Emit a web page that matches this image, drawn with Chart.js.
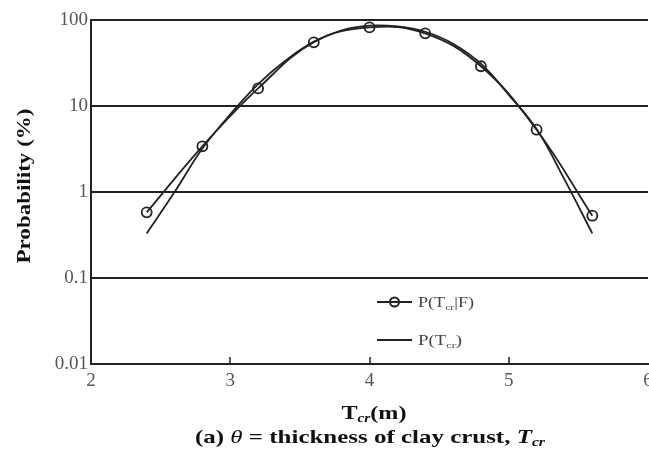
<!DOCTYPE html>
<html>
<head>
<meta charset="utf-8">
<script src="https://cdn.jsdelivr.net/npm/chart.js@4.4.1/dist/chart.umd.min.js"></script>
<style>
  html, body { margin: 0; padding: 0; background: #fff; overflow: hidden; }
  #wrap { position: absolute; left: 0; top: 0; width: 700px; height: 450px; }
</style>
</head>
<body>
<div id="wrap"><canvas id="myChart"></canvas></div>
<script>
// P(Tcr|F) : points with circles
const xCond = [2.4, 2.8, 3.2, 3.6, 4.0, 4.4, 4.8, 5.2, 5.6]
const pCond = [0.58, 3.4, 16, 55, 82, 70, 29, 5.3, 0.53]

// P(Tcr) : plain line
const xPrior = [2.4, 2.6, 2.8, 3.0, 3.2, 3.4, 3.6, 3.8, 4.0, 4.2, 4.4, 4.6, 4.8, 5.0, 5.2, 5.4, 5.6]
const pPrior = [0.33, 1.0, 3.2, 8, 18, 34, 56, 76, 86, 84, 73, 53, 31, 13.5, 5.4, 1.4, 0.33]

const yTicks = [0.01, 0.1, 1, 10, 100]
const xTickMarks = [3, 4, 5]

const serif = "'Liberation Serif', 'Times New Roman', Times, serif"

// draws a run of text parts, stretched horizontally to a target width
function drawRich(ctx, parts, x, y, target, align) {
  ctx.save()
  let total = 0
  parts.forEach((p) => {
    ctx.font = p.font
    p.w = ctx.measureText(p.t).width
    total += p.w
  })
  const sx = target ? target / total : 1
  ctx.translate(x, y)
  ctx.scale(sx, 1)
  let cx = align === 'left' ? 0 : -total / 2
  ctx.textBaseline = 'alphabetic'
  parts.forEach((p) => {
    ctx.font = p.font
    ctx.fillStyle = p.color || '#111'
    ctx.fillText(p.t, cx, p.dy || 0)
    cx += p.w
  })
  ctx.restore()
}

const decorations = {
  id: 'decorations',
  afterDraw(chart) {
    const { ctx, chartArea, scales } = chart
    const xs = scales.x

    // small inward ticks on the x axis
    ctx.save()
    ctx.strokeStyle = '#222'
    ctx.lineWidth = 1.5
    xTickMarks.forEach((v) => {
      const px = Math.round(xs.getPixelForValue(v))
      ctx.beginPath()
      ctx.moveTo(px, chartArea.bottom)
      ctx.lineTo(px, chartArea.bottom - 7)
      ctx.stroke()
    })
    ctx.restore()

    // legend
    const lx0 = 377
    const lx1 = 412
    const rows = [
      { y: 302, marker: true, parts: ['P(T', 'cr', '|F)'], w: 56 },
      { y: 340, marker: false, parts: ['P(T', 'cr', ')'], w: 44 },
    ]
    rows.forEach((r) => {
      ctx.save()
      ctx.strokeStyle = '#222'
      ctx.lineWidth = 2
      ctx.beginPath()
      ctx.moveTo(lx0, r.y)
      ctx.lineTo(lx1, r.y)
      ctx.stroke()
      if (r.marker) {
        ctx.beginPath()
        ctx.arc((lx0 + lx1) / 2, r.y, 4.5, 0, Math.PI * 2)
        ctx.lineWidth = 2
        ctx.stroke()
      }
      ctx.restore()
      drawRich(ctx, [
        { t: r.parts[0], font: '14px ' + serif, color: '#444' },
        { t: r.parts[1], font: '9px ' + serif, color: '#444', dy: 3 },
        { t: r.parts[2], font: '14px ' + serif, color: '#444' },
      ], 418, r.y + 5, r.w, 'left')
    })

    // x axis title
    drawRich(ctx, [
      { t: 'T', font: 'bold 19px ' + serif },
      { t: 'cr', font: 'italic bold 12px ' + serif, dy: 3 },
      { t: '(m)', font: 'bold 19px ' + serif },
    ], 374, 419, 65)

    // caption
    drawRich(ctx, [
      { t: '(a) ', font: 'bold 19px ' + serif },
      { t: 'θ', font: 'italic 19px ' + serif },
      { t: ' = thickness of clay crust, ', font: 'bold 19px ' + serif },
      { t: 'T', font: 'italic bold 19px ' + serif },
      { t: 'cr', font: 'italic bold 12px ' + serif, dy: 3 },
    ], 370, 443, 350)

    // y axis title (rotated)
    ctx.save()
    ctx.translate(30, 186)
    ctx.rotate(-Math.PI / 2)
    drawRich(ctx, [{ t: 'Probability (%)', font: 'bold 18px ' + serif }], 0, 0, 155)
    ctx.restore()
  },
}

const chart = new Chart(document.querySelector('#myChart'), {
  type: 'line',
  data: {
    datasets: [
      {
        label: 'P(Tcr|F)',
        data: xCond.map((x, i) => ({ x, y: pCond[i] })),
        borderColor: '#222',
        borderWidth: 1.8,
        tension: 0.4,
        pointRadius: 5,
        pointBorderWidth: 1.8,
        pointBorderColor: '#222',
        pointBackgroundColor: 'rgba(255,255,255,0)',
        fill: false,
      },
      {
        label: 'P(Tcr)',
        data: xPrior.map((x, i) => ({ x, y: pPrior[i] })),
        borderColor: '#222',
        borderWidth: 1.8,
        tension: 0.4,
        pointRadius: 0,
        fill: false,
      },
    ],
  },
  options: {
    responsive: true,
    maintainAspectRatio: false,
    animation: false,
    layout: { padding: { left: 0, top: 20, right: 52, bottom: 0 } },
    plugins: {
      legend: { display: false },
      tooltip: { enabled: false },
    },
    scales: {
      x: {
        type: 'linear',
        min: 2,
        max: 6,
        ticks: {
          stepSize: 1,
          padding: 6,
          color: '#555',
          font: { family: serif, size: 19 },
        },
        grid: { display: false, drawTicks: false },
        border: { display: true, color: '#222', width: 2 },
        afterFit(scale) { scale.height = 86 },
      },
      y: {
        type: 'logarithmic',
        min: 0.01,
        max: 100,
        afterBuildTicks(scale) {
          scale.ticks = yTicks.map((v) => ({ value: v }))
        },
        ticks: {
          padding: 3,
          color: '#555',
          font: { family: serif, size: 19 },
          callback: (v) => String(v),
        },
        grid: { color: '#222', lineWidth: 2, drawTicks: false },
        border: { display: true, color: '#222', width: 2 },
        afterFit(scale) { scale.width = 91 },
      },
    },
  },
  plugins: [decorations],
})
</script>
</body>
</html>
